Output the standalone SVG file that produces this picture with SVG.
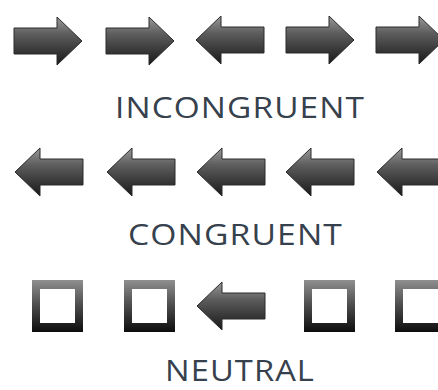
<svg xmlns="http://www.w3.org/2000/svg" xmlns:xlink="http://www.w3.org/1999/xlink" width="438" height="390" viewBox="0 0 438 390">
  <defs>
    <linearGradient id="gArrow" x1="0" y1="0" x2="0" y2="1">
      <stop offset="0" stop-color="#9a9a9a"/>
      <stop offset="0.35" stop-color="#5e5e5e"/>
      <stop offset="0.75" stop-color="#333333"/>
      <stop offset="1" stop-color="#1a1a1a"/>
    </linearGradient>
    <linearGradient id="gBox" x1="0" y1="0" x2="0" y2="1">
      <stop offset="0" stop-color="#8f8f8f"/>
      <stop offset="0.5" stop-color="#4a4a4a"/>
      <stop offset="1" stop-color="#0d0d0d"/>
    </linearGradient>
    <path id="arrowR" d="M0,-13 H43 V-24 L68,0 L43,24 V13 H0 Z"/>
    <path id="arrowL" d="M0,0 L25,-24 V-13 H68 V13 H25 V24 Z"/>
    <path id="box" d="M0,0 H51 V52 H0 Z M8,9 V43 H43 V9 Z" fill-rule="evenodd"/>
  </defs>
  <style>
    .arrow { fill: url(#gArrow); stroke: #2a2a2a; stroke-width: 1; stroke-linejoin: miter; }
    .box { fill: url(#gBox); }
    .label { font-family: "Open Sans", "Lato", "Liberation Sans", sans-serif; font-size: 30px; fill: #36414d; text-anchor: start; }
  </style>
  <rect width="438" height="390" fill="#ffffff"/>

  <!-- Row 1: incongruent -->
  <g id="r1a1"><use href="#arrowR" class="arrow" transform="translate(14,41)"/></g>
  <g id="r1a2"><use href="#arrowR" class="arrow" transform="translate(106,41)"/></g>
  <g id="r1a3"><use href="#arrowL" class="arrow" transform="translate(196,40)"/></g>
  <g id="r1a4"><use href="#arrowR" class="arrow" transform="translate(286,40)"/></g>
  <g id="r1a5"><use href="#arrowR" class="arrow" transform="translate(376,40)"/></g>
  <g id="label-incongruent"><text class="label" x="115" y="118" textLength="250" lengthAdjust="spacingAndGlyphs" letter-spacing="1">INCONGRUENT</text></g>

  <!-- Row 2: congruent -->
  <g id="r2a1"><use href="#arrowL" class="arrow" transform="translate(15,172)"/></g>
  <g id="r2a2"><use href="#arrowL" class="arrow" transform="translate(107,172)"/></g>
  <g id="r2a3"><use href="#arrowL" class="arrow" transform="translate(197,172)"/></g>
  <g id="r2a4"><use href="#arrowL" class="arrow" transform="translate(286,172)"/></g>
  <g id="r2a5"><use href="#arrowL" class="arrow" transform="translate(377,172)"/></g>
  <g id="label-congruent"><text class="label" x="128" y="245" textLength="215" lengthAdjust="spacingAndGlyphs" letter-spacing="1">CONGRUENT</text></g>

  <!-- Row 3: neutral -->
  <g id="r3b1"><use href="#box" class="box" transform="translate(32,280)"/></g>
  <g id="r3b2"><use href="#box" class="box" transform="translate(124,280)"/></g>
  <g id="r3a3"><use href="#arrowL" class="arrow" transform="translate(197,306)"/></g>
  <g id="r3b4"><use href="#box" class="box" transform="translate(304,280)"/></g>
  <g id="r3b5"><use href="#box" class="box" transform="translate(395,280)"/></g>
  <g id="label-neutral"><text class="label" x="165" y="381" font-size="29" textLength="150" lengthAdjust="spacingAndGlyphs" letter-spacing="1">NEUTRAL</text></g>

  <g id="connectors"/>
</svg>
